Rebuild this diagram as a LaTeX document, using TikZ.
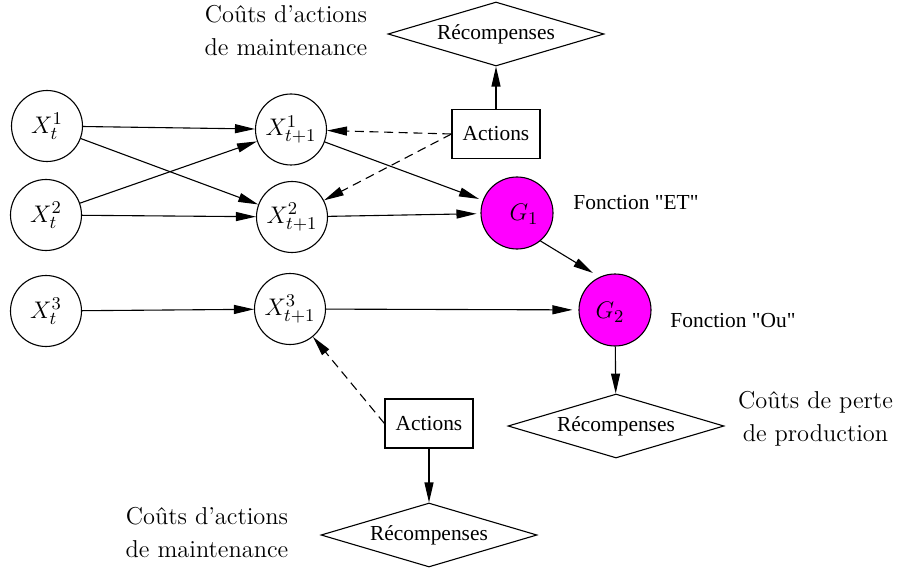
\documentclass[tikz,border=0pt]{standalone}
\usepackage{fontspec}
\newfontfamily\tms{Liberation Serif}
\usetikzlibrary{shapes.geometric,arrows.meta}
\definecolor{gmag}{RGB}{255,0,255}
\begin{document}
\begin{tikzpicture}[x=0.5pt,y=-0.5pt,line width=0.55pt,
  >={Triangle[length=10pt,width=4.5pt]},
  state/.style={circle,draw,minimum size=35.5pt,inner sep=0pt,font=\fontsize{12.3}{14}\selectfont},
  gate/.style={circle,draw,fill=gmag,minimum size=36pt,inner sep=0pt},
  glabel/.style={inner sep=0pt,font=\fontsize{12.3}{14}\selectfont},
  reward/.style={diamond,draw,aspect=3.375,minimum width=108pt,minimum height=32pt,inner sep=0pt,font=\tms\fontsize{10.7}{13}\selectfont},
  actbox/.style={rectangle,draw,minimum width=44pt,minimum height=24.5pt,inner sep=0pt,font=\tms\fontsize{10.7}{13}\selectfont},
  note/.style={align=center,inner sep=0pt,font=\fontsize{12.2}{16.5}\selectfont},
  fnote/.style={inner sep=0pt,font=\tms\fontsize{10.7}{13}\selectfont},
  dsh/.style={dash pattern=on 4.5pt off 2.8pt},
  togate/.style={->,shorten >=2pt}]
\useasboundingbox (0,0) rectangle (898,572);

% state nodes
\node[state] (X1t) at (47,126) {$X_t^1$};
\node[state] (X2t) at (46,215) {$X_t^2$};
\node[state] (X3t) at (46,311) {$X_t^3$};
\node[state] (X1p) at (291,129.5) {$X_{t+1}^1$};
\node[state] (X2p) at (292,217) {$X_{t+1}^2$};
\node[state] (X3p) at (290,309) {$X_{t+1}^3$};

% gates
\node[gate] (G1) at (517,213) {};
\node[glabel] (LG1) at (524,214) {$G_1$};
\node[gate] (G2) at (615,310) {};
\node[glabel] (LG2) at (610,312) {$G_2$};
\coordinate (G2in) at (593,273);

% actions and rewards
\node[actbox] (A1) at (496,134) {Actions};
\node[reward] (R1) at (496,34) {Récompenses};
\node[actbox] (A2) at (429,423.5) {Actions};
\node[reward] (R3) at (429,535) {Récompenses};
\node[reward] (R2) at (616,426) {Récompenses};

% notes
\node[note] (N1) at (286,31) {Coûts d'actions\\de maintenance};
\node[note] (N2) at (207,532.5) {Coûts d'actions\\de maintenance};
\node[note] (N3) at (815.5,419) {Coûts de perte\\de production};
\node[fnote] (F1) at (636,203) {Fonction "ET"};
\node[fnote] (F2) at (733,321) {Fonction "Ou"};

% connectors
\draw[->] (X1t) -- (X1p);
\draw[->] (X1t) -- (X2p);
\draw[->] (X2t) -- (X1p);
\draw[->] (X2t) -- (X2p);
\draw[->] (X3t) -- (X3p);
\draw[->,dsh] (A1.west) -- (X1p);
\draw[->,dsh] (A1.west) -- (X2p);
\draw[->] (A1) -- (R1);
\draw[togate] (X1p) -- (G1);
\draw[togate] (X2p) -- (G1);
\draw[->] (G1.-50) -- (G2in);
\draw[togate,shorten >=3pt] (X3p) -- (G2);
\draw[->] (G2) -- (R2);
\draw[->,dsh] (A2.west) -- (X3p);
\draw[->] (A2) -- (R3);
\end{tikzpicture}
\end{document}
